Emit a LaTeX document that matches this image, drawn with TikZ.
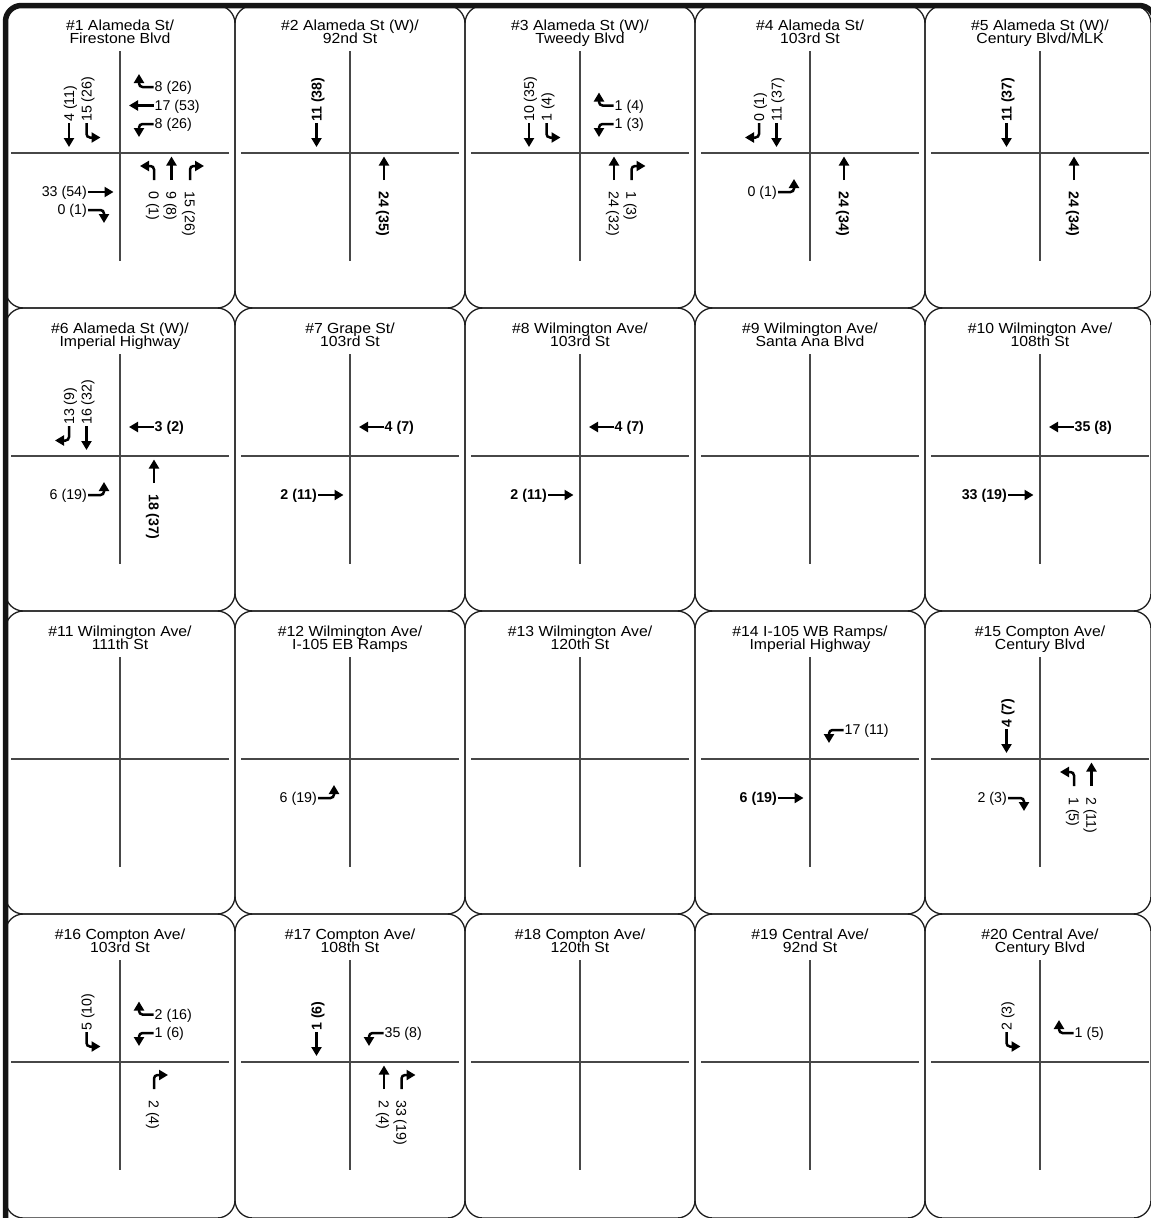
\documentclass[tikz,border=0pt]{standalone}
\usepackage{fontspec}
\setmainfont{Liberation Sans}
\newfontfamily\ttlfont[FakeStretch=1.08]{Liberation Sans}
\usetikzlibrary{arrows.meta}
\newcounter{mvc}
\newcommand\mvnew{\stepcounter{mvc}\edef\mvn{mv\arabic{mvc}}}
% southbound (label above, reading upwards)
\newcommand\sbThru[2]{\mvnew
  \coordinate (\mvn t) at (#1,-30);
  \coordinate (\mvn h) at (#1,-6);
  \node[num,rotate=90,anchor=west] (\mvn) at ({#1+1.5},-31) {#2};
  \draw[arr] (\mvn t) -- (\mvn h);}
\newcommand\sbHook[3]{\mvnew
  \coordinate (\mvn t) at (#1,-30);
  \coordinate (\mvn h) at ({#1+(#2)},-15.5);
  \node[num,rotate=90,anchor=west] (\mvn) at ({#1+1.5},-31) {#3};
  \draw[hook] (\mvn t) |- (\mvn h);}
% westbound (label right)
\newcommand\wbThru[2]{\mvnew
  \coordinate (\mvn t) at (33.5,#1);
  \coordinate (\mvn h) at (9,#1);
  \node[num,anchor=west] (\mvn) at (34.5,{#1+1}) {#2};
  \draw[arr] (\mvn t) -- (\mvn h);}
\newcommand\wbHook[3]{\mvnew
  \coordinate (\mvn t) at (33.5,#1);
  \coordinate (\mvn h) at (19,{#1+(#2)});
  \node[num,anchor=west] (\mvn) at (34.5,{#1+1}) {#3};
  \draw[hook] (\mvn t) -| (\mvn h);}
% northbound (label below, reading downwards)
\newcommand\nbThru[2]{\mvnew
  \coordinate (\mvn t) at (#1,27);
  \coordinate (\mvn h) at (#1,3.5);
  \node[num,rotate=-90,anchor=west] (\mvn) at ({#1-1.5},38) {#2};
  \draw[arr] (\mvn t) -- (\mvn h);}
\newcommand\nbHook[3]{\mvnew
  \coordinate (\mvn t) at (#1,27);
  \coordinate (\mvn h) at ({#1+(#2)},13);
  \node[num,rotate=-90,anchor=west] (\mvn) at ({#1-1.5},38) {#3};
  \draw[hook] (\mvn t) |- (\mvn h);}
% eastbound (label left)
\newcommand\ebThru[2]{\mvnew
  \coordinate (\mvn t) at (-32,#1);
  \coordinate (\mvn h) at (-6.5,#1);
  \node[num,anchor=east] (\mvn) at (-33,{#1+1}) {#2};
  \draw[arr] (\mvn t) -- (\mvn h);}
\newcommand\ebHook[3]{\mvnew
  \coordinate (\mvn t) at (-32,#1);
  \coordinate (\mvn h) at (-16,{#1+(#2)});
  \node[num,anchor=east] (\mvn) at (-33,{#1+1}) {#3};
  \draw[hook] (\mvn t) -| (\mvn h);}
% one intersection panel
\newcommand\junction[6]{%
  \begin{scope}[shift={(#1,#2)}]
    \draw[road] (0,-102) -- (0,108);
    \draw[road] (-109,0) -- (109,0);
    \node[ttl] (#3a) at (0,-122.3) {#4};
    \node[ttl] (#3b) at (0,-109.6) {#5};
    #6
  \end{scope}}
\begin{document}
\begin{tikzpicture}[x=1pt,y=-1pt,
  arr/.style={line width=2.5pt,-{Triangle[length=9pt,width=10pt]}},
  hook/.style={arr,rounded corners=3.5pt},
  num/.style={font=\fontsize{14.2}{17}\selectfont,inner sep=0pt},
  ttl/.style={font=\ttlfont\fontsize{14.6}{18}\selectfont,anchor=base,inner sep=0pt},
  road/.style={line width=1.1pt,black!72},
  cellbox/.style={line width=1.3pt,black!88,rounded corners=18pt},
  frame/.style={line width=5.5pt,black!92,rounded corners=16pt}]
\useasboundingbox (0,0) rectangle (1151,1218);
\clip (0,0) rectangle (1151,1218);
\fill[white] (0,0) rectangle (1151,1218);
\foreach \xa/\xb in {5.5/235,235/465,465/695,695/925,925/1151}
  \foreach \ya/\yb in {5.5/308,308/611,611/914,914/1218}
    \draw[cellbox] (\xa,\ya) rectangle (\xb,\yb);
\draw[frame] (5.5,1250) -- (5.5,5.5) -- (1155,5.5) -- (1155,1250);

\junction{120}{153}{t1}{\#1 Alameda St/}{Firestone Blvd}{%
  \sbThru{-51}{4 (11)}
  \sbHook{-33.5}{14}{15 (26)}
  \wbHook{-66}{-13}{8 (26)}
  \wbThru{-47.5}{17 (53)}
  \wbHook{-29}{13}{8 (26)}
  \nbHook{34}{-14}{0 (1)}
  \nbThru{51.5}{9 (8)}
  \nbHook{70}{14}{15 (26)}
  \ebThru{39}{33 (54)}
  \ebHook{57}{13}{0 (1)}}
\junction{350}{153}{t2}{\#2 Alameda St (W)/}{92nd St}{%
  \sbThru{-33.5}{\bfseries 11 (38)}
  \nbThru{34}{\bfseries 24 (35)}}
\junction{580}{153}{t3}{\#3 Alameda St (W)/}{Tweedy Blvd}{%
  \sbThru{-51}{10 (35)}
  \sbHook{-33.5}{14}{1 (4)}
  \wbHook{-47.5}{-13}{1 (4)}
  \wbHook{-29}{13}{1 (3)}
  \nbThru{34}{24 (32)}
  \nbHook{51.5}{14}{1 (3)}}
\junction{810}{153}{t4}{\#4 Alameda St/}{103rd St}{%
  \sbHook{-51}{-14}{0 (1)}
  \sbThru{-33.5}{11 (37)}
  \ebHook{39}{-13}{0 (1)}
  \nbThru{34}{\bfseries 24 (34)}}
\junction{1040}{153}{t5}{\#5 Alameda St (W)/}{Century Blvd/MLK}{%
  \sbThru{-33.5}{\bfseries 11 (37)}
  \nbThru{34}{\bfseries 24 (34)}}

\junction{120}{456}{t6}{\#6 Alameda St (W)/}{Imperial Highway}{%
  \sbHook{-51}{-14}{13 (9)}
  \sbThru{-33.5}{16 (32)}
  \wbThru{-29}{\bfseries 3 (2)}
  \ebHook{39}{-13}{6 (19)}
  \nbThru{34}{\bfseries 18 (37)}}
\junction{350}{456}{t7}{\#7 Grape St/}{103rd St}{%
  \wbThru{-29}{\bfseries 4 (7)}
  \ebThru{39}{\bfseries 2 (11)}}
\junction{580}{456}{t8}{\#8 Wilmington Ave/}{103rd St}{%
  \wbThru{-29}{\bfseries 4 (7)}
  \ebThru{39}{\bfseries 2 (11)}}
\junction{810}{456}{t9}{\#9 Wilmington Ave/}{Santa Ana Blvd}{}
\junction{1040}{456}{t10}{\#10 Wilmington Ave/}{108th St}{%
  \wbThru{-29}{\bfseries 35 (8)}
  \ebThru{39}{\bfseries 33 (19)}}

\junction{120}{759}{t11}{\#11 Wilmington Ave/}{111th St}{}
\junction{350}{759}{t12}{\#12 Wilmington Ave/}{I-105 EB Ramps}{%
  \ebHook{39}{-13}{6 (19)}}
\junction{580}{759}{t13}{\#13 Wilmington Ave/}{120th St}{}
\junction{810}{759}{t14}{\#14 I-105 WB Ramps/}{Imperial Highway}{%
  \wbHook{-29}{13}{17 (11)}
  \ebThru{39}{\bfseries 6 (19)}}
\junction{1040}{759}{t15}{\#15 Compton Ave/}{Century Blvd}{%
  \sbThru{-33.5}{\bfseries 4 (7)}
  \ebHook{39}{13}{2 (3)}
  \nbHook{34}{-14}{1 (5)}
  \nbThru{51.5}{2 (11)}}

\junction{120}{1062}{t16}{\#16 Compton Ave/}{103rd St}{%
  \sbHook{-33.5}{14}{5 (10)}
  \wbHook{-47.5}{-13}{2 (16)}
  \wbHook{-29}{13}{1 (6)}
  \nbHook{34}{14}{2 (4)}}
\junction{350}{1062}{t17}{\#17 Compton Ave/}{108th St}{%
  \sbThru{-33.5}{\bfseries 1 (6)}
  \wbHook{-29}{13}{35 (8)}
  \nbThru{34}{2 (4)}
  \nbHook{51.5}{14}{33 (19)}}
\junction{580}{1062}{t18}{\#18 Compton Ave/}{120th St}{}
\junction{810}{1062}{t19}{\#19 Central Ave/}{92nd St}{}
\junction{1040}{1062}{t20}{\#20 Central Ave/}{Century Blvd}{%
  \sbHook{-33.5}{14}{2 (3)}
  \wbHook{-29}{-13}{1 (5)}}
\end{tikzpicture}
\end{document}
